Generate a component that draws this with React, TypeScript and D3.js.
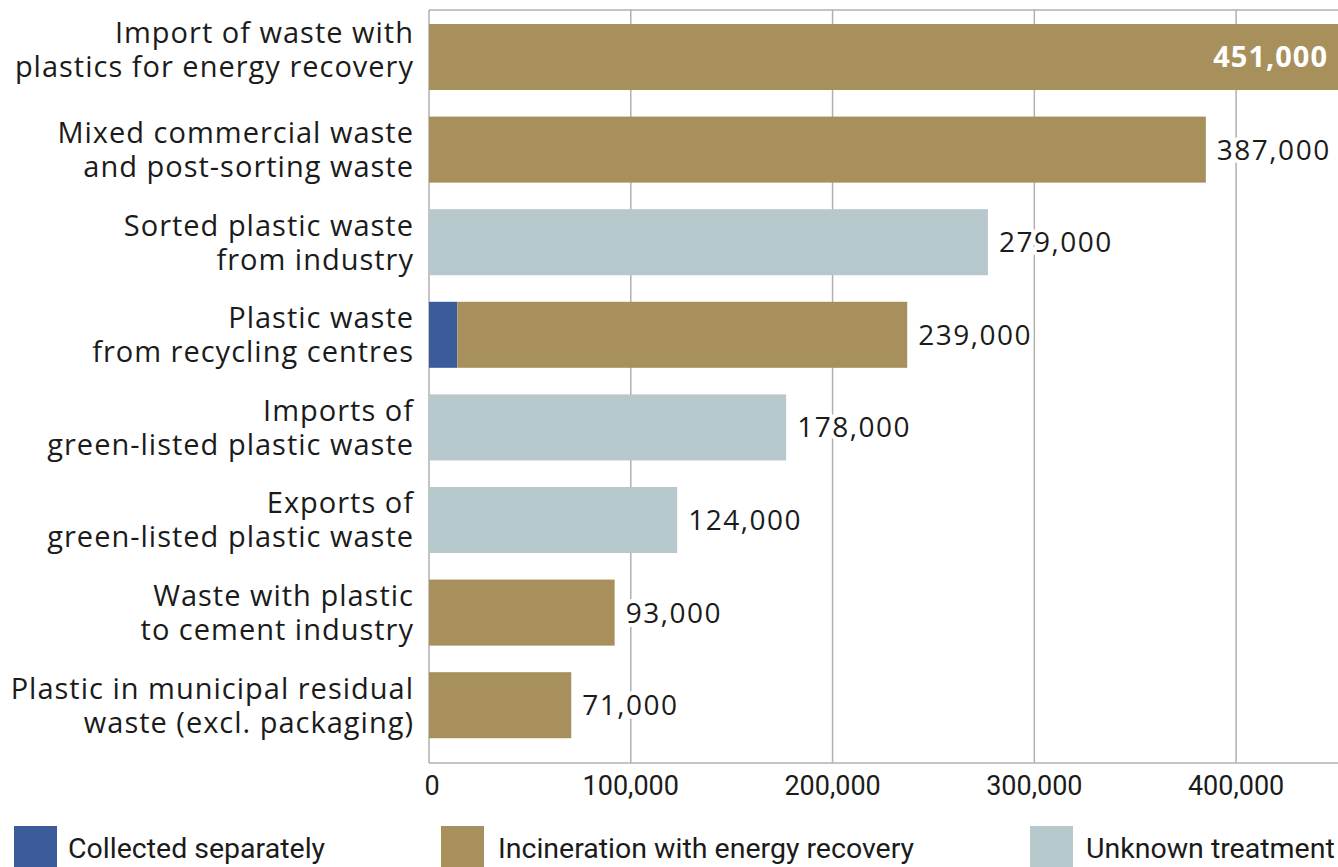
import React from "react";
import * as d3 from "d3";

const categories: string[][] = [
  ["Import of waste with", "plastics for energy recovery"],
  ["Mixed commercial waste", "and post-sorting waste"],
  ["Sorted plastic waste", "from industry"],
  ["Plastic waste", "from recycling centres"],
  ["Imports of", "green-listed plastic waste"],
  ["Exports of", "green-listed plastic waste"],
  ["Waste with plastic", "to cement industry"],
  ["Plastic in municipal residual", "waste (excl. packaging)"],
];
const collectedSeparately = [0, 0, 0, 14000, 0, 0, 0, 0];
const incineration = [451000, 385000, 0, 223000, 0, 0, 92000, 70500];
const unknownTreatment = [0, 0, 277000, 0, 177000, 123000, 0, 0];
const totalLabels = ["451,000", "387,000", "279,000", "239,000", "178,000", "124,000", "93,000", "71,000"];
const xTicks = [0, 100000, 200000, 300000, 400000];
const seriesNames = ["Collected separately", "Incineration with energy recovery", "Unknown treatment"];
const seriesColors = ["#3b5b9b", "#a8905c", "#b6c8cb"];

const W = 1338;
const H = 867;
const FONT_WIDE = "'Open Sans', sans-serif";
const FONT_NARROW = "Roboto, sans-serif";

export default function App() {
  const x = d3.scaleLinear().domain([0, 450000]).range([429, 1337]);
  const keys = categories.map((_, i) => String(i));
  const y = d3
    .scaleBand<string>()
    .domain(keys)
    .range([10.7, 751.5])
    .paddingInner(0.287)
    .paddingOuter(0.1435);

  const rows = categories.map((c, i) => ({
    key: String(i),
    label: c,
    total: collectedSeparately[i] + incineration[i] + unknownTreatment[i],
    text: totalLabels[i],
    a: collectedSeparately[i],
    b: incineration[i],
    c: unknownTreatment[i],
  }));
  const stack = d3.stack<any>().keys(["a", "b", "c"])(rows);

  const top = 10;
  const bottom = 763;
  const textColor = "#1b1b1b";
  const grid = "#b0b0b0";

  return (
    <svg
      width={W}
      height={H}
      style={{ position: "absolute", left: 0, top: 0, background: "#fff" }}
      fontFamily={FONT_WIDE}
    >
      <rect width={W} height={H} fill="#fff" />
      {xTicks.map((t) => (
        <line key={t} x1={x(t)} x2={x(t)} y1={top} y2={bottom} stroke={grid} strokeWidth={1.5} />
      ))}
      <line x1={x(0)} x2={W} y1={top} y2={top} stroke={grid} strokeWidth={1.5} />
      <line x1={x(0)} x2={W} y1={bottom} y2={bottom} stroke={grid} strokeWidth={1.5} />
      {stack.map((s, si) =>
        s.map((d, i) => {
          const w = x(d[1]) - x(d[0]);
          if (w <= 0) return null;
          return (
            <rect
              key={si + "-" + i}
              x={x(d[0])}
              y={y(keys[i])}
              width={w}
              height={y.bandwidth()}
              fill={seriesColors[si]}
            />
          );
        })
      )}
      {rows.map((r) => {
        const cy = (y(r.key) as number) + y.bandwidth() / 2;
        const end = x(r.total);
        const inside = end > W - 20;
        return inside ? (
          <text
            key={r.key}
            x={W - 10}
            y={cy}
            dy="0.36em"
            textAnchor="end"
            fill="#fff"
            fontWeight={700}
            fontSize={29}
            letterSpacing={1}
          >
            {r.text}
          </text>
        ) : (
          <text
            key={r.key}
            x={end + 11}
            y={cy}
            dy="0.36em"
            fill={textColor}
            fontSize={28}
            letterSpacing={1.5}
            stroke="#fff"
            strokeWidth={8}
            paintOrder="stroke"
            strokeLinejoin="round"
          >
            {r.text}
          </text>
        );
      })}
      {rows.map((r, i) => {
        const cy = (y(r.key) as number) + y.bandwidth() / 2 - (i === 0 ? 7 : 0);
        return (
          <text key={r.key} textAnchor="end" fill={textColor} fontSize={29} letterSpacing={1}>
            <tspan x={414} y={cy - 17} dy="0.36em">
              {r.label[0]}
            </tspan>
            <tspan x={414} y={cy + 17} dy="0.36em">
              {r.label[1]}
            </tspan>
          </text>
        );
      })}
      {xTicks.map((t) => (
        <text
          key={t}
          x={t === 0 ? x(t) + 3 : x(t)}
          y={785}
          dy="0.36em"
          textAnchor="middle"
          fill={textColor}
          fontFamily={FONT_NARROW}
          fontSize={27}
        >
          {d3.format(",")(t)}
        </text>
      ))}
      {[
        { sx: 14, tx: 68 },
        { sx: 441, tx: 498 },
        { sx: 1030, tx: 1086 },
      ].map((p, i) => (
        <g key={i}>
          <rect x={p.sx} y={826} width={43} height={45} fill={seriesColors[i]} />
          <text
            x={p.tx}
            y={848}
            dy="0.36em"
            fill={textColor}
            fontFamily={FONT_NARROW}
            fontSize={28.5}
          >
            {seriesNames[i]}
          </text>
        </g>
      ))}
    </svg>
  );
}
